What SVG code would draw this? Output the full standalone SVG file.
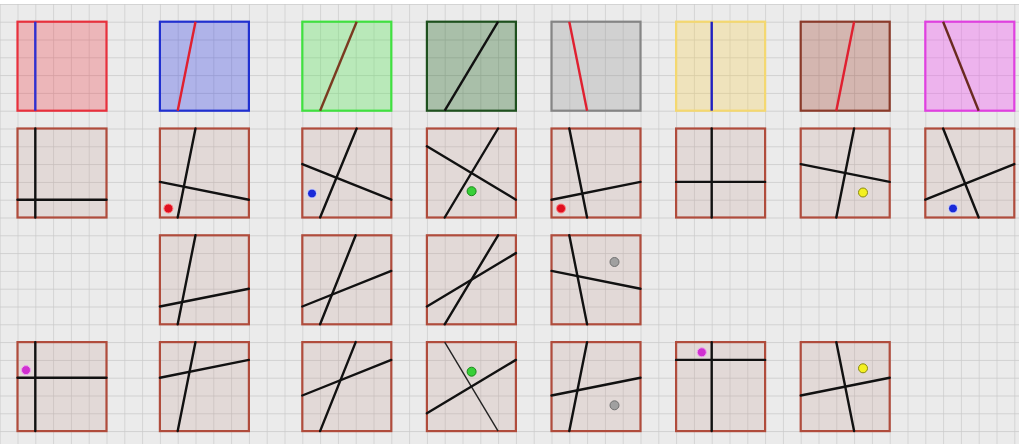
<svg xmlns="http://www.w3.org/2000/svg" width="1019" height="444" viewBox="0 0 1019 444">
<defs>
<pattern id="grid" patternUnits="userSpaceOnUse" x="17.5" y="21.7" width="17.8" height="17.8">
<rect width="17.8" height="17.8" fill="#ebebeb"/>
<path d="M0 0V17.8M0 0H17.8" stroke="#c9c9c9" stroke-width="1.3" fill="none"/>
</pattern>
<style>
.sq{fill:rgba(190,140,130,0.18);stroke:#b04c3c;stroke-width:2.2}
.ln{stroke:#111;stroke-width:2.4;fill:none;stroke-linecap:round}
.thin{stroke:#222;stroke-width:1.4;fill:none}
.dot{stroke-width:1}
</style>
</defs>
<rect width="1019" height="444" fill="url(#grid)"/>
<rect width="1019" height="4" fill="#ffffff"/>

<!-- Row 1 -->
<g id="r1c1" transform="translate(17.5,21.7)">
<rect width="89" height="89" fill="rgba(240,60,70,0.3)" stroke="#e8303c" stroke-width="2.2"/>
<line x1="17.8" y1="0" x2="17.8" y2="89" stroke="#3030d0" stroke-width="2.4"/>
</g>
<g id="r1c2" transform="translate(159.9,21.7)">
<rect width="89" height="89" fill="rgba(60,70,230,0.34)" stroke="#2030d0" stroke-width="2.2"/>
<line x1="35.6" y1="0" x2="17.8" y2="89" stroke="#e02030" stroke-width="2.4"/>
</g>
<g id="r1c3" transform="translate(302.3,21.7)">
<rect width="89" height="89" fill="rgba(80,230,80,0.32)" stroke="#40e040" stroke-width="2.2"/>
<line x1="54.4" y1="0" x2="17.8" y2="89" stroke="#7a3a20" stroke-width="2.4"/>
</g>
<g id="r1c4" transform="translate(426.9,21.7)">
<rect width="89" height="89" fill="rgba(30,100,30,0.32)" stroke="#1e501e" stroke-width="2.2"/>
<line x1="71.2" y1="0" x2="17.8" y2="89" stroke="#111" stroke-width="2.4"/>
</g>
<g id="r1c5" transform="translate(551.5,21.7)">
<rect width="89" height="89" fill="rgba(150,150,150,0.3)" stroke="#858585" stroke-width="2.2"/>
<line x1="17.8" y1="0" x2="35.6" y2="89" stroke="#e02030" stroke-width="2.4"/>
</g>
<g id="r1c6" transform="translate(676.1,21.7)">
<rect width="89" height="89" fill="rgba(250,210,80,0.3)" stroke="#f4d870" stroke-width="2.2"/>
<line x1="35.6" y1="0" x2="35.6" y2="89" stroke="#2020c0" stroke-width="2.4"/>
</g>
<g id="r1c7" transform="translate(800.7,21.7)">
<rect width="89" height="89" fill="rgba(160,60,40,0.3)" stroke="#8a3a2a" stroke-width="2.2"/>
<line x1="53.4" y1="0" x2="35.6" y2="89" stroke="#e02030" stroke-width="2.4"/>
</g>
<g id="r1c8" transform="translate(925.3,21.7)">
<rect width="89" height="89" fill="rgba(240,80,240,0.36)" stroke="#e040e0" stroke-width="2.2"/>
<line x1="17.8" y1="0" x2="53.4" y2="89" stroke="#6a2a20" stroke-width="2.4"/>
</g>

<!-- Row 2 -->
<g id="r2c1" transform="translate(17.5,128.5)">
<rect class="sq" width="89" height="89"/>
<line class="ln" x1="17.8" y1="0" x2="17.8" y2="89"/>
<line class="ln" x1="0" y1="71.2" x2="89" y2="71.2"/>
</g>
<g id="r2c2" transform="translate(159.9,128.5)">
<rect class="sq" width="89" height="89"/>
<line class="ln" x1="35.6" y1="0" x2="17.8" y2="89"/>
<line class="ln" x1="0" y1="53.4" x2="89" y2="71.2"/>
<circle class="dot" cx="8.5" cy="80" r="4.5" fill="#e01020" stroke="#ff8080"/>
</g>
<g id="r2c3" transform="translate(302.3,128.5)">
<rect class="sq" width="89" height="89"/>
<line class="ln" x1="54.4" y1="0" x2="17.8" y2="89"/>
<line class="ln" x1="0" y1="35.6" x2="89" y2="71.2"/>
<circle class="dot" cx="9.7" cy="65" r="4.5" fill="#1a2ad8" stroke="#d8dcff"/>
</g>
<g id="r2c4" transform="translate(426.9,128.5)">
<rect class="sq" width="89" height="89"/>
<line class="ln" x1="71.2" y1="0" x2="17.8" y2="89"/>
<line class="ln" x1="0" y1="17.8" x2="89" y2="71.2"/>
<circle class="dot" cx="44.7" cy="62.7" r="4.5" fill="#38d038" stroke="#1a8a1a"/>
</g>
<g id="r2c5" transform="translate(551.5,128.5)">
<rect class="sq" width="89" height="89"/>
<line class="ln" x1="17.8" y1="0" x2="35.6" y2="89"/>
<line class="ln" x1="0" y1="71.2" x2="89" y2="53.4"/>
<circle class="dot" cx="9.5" cy="80" r="4.5" fill="#e01020" stroke="#ff8080"/>
</g>
<g id="r2c6" transform="translate(676.1,128.5)">
<rect class="sq" width="89" height="89"/>
<line class="ln" x1="35.6" y1="0" x2="35.6" y2="89"/>
<line class="ln" x1="0" y1="53.4" x2="89" y2="53.4"/>
</g>
<g id="r2c7" transform="translate(800.7,128.5)">
<rect class="sq" width="89" height="89"/>
<line class="ln" x1="53.4" y1="0" x2="35.6" y2="89"/>
<line class="ln" x1="0" y1="35.6" x2="89" y2="53.4"/>
<circle class="dot" cx="62.3" cy="64" r="4.5" fill="#f4f020" stroke="#8a8a10"/>
</g>
<g id="r2c8" transform="translate(925.3,128.5)">
<rect class="sq" width="89" height="89"/>
<line class="ln" x1="17.8" y1="0" x2="53.4" y2="89"/>
<line class="ln" x1="0" y1="71.2" x2="89" y2="35.6"/>
<circle class="dot" cx="27.7" cy="80" r="4.5" fill="#1a2ad8" stroke="#d8dcff"/>
</g>

<!-- Row 3 -->
<g id="r3c2" transform="translate(159.9,235.3)">
<rect class="sq" width="89" height="89"/>
<line class="ln" x1="35.6" y1="0" x2="17.8" y2="89"/>
<line class="ln" x1="0" y1="71.2" x2="89" y2="53.4"/>
</g>
<g id="r3c3" transform="translate(302.3,235.3)">
<rect class="sq" width="89" height="89"/>
<line class="ln" x1="53.4" y1="0" x2="17.8" y2="89"/>
<line class="ln" x1="0" y1="71.2" x2="89" y2="35.6"/>
</g>
<g id="r3c4" transform="translate(426.9,235.3)">
<rect class="sq" width="89" height="89"/>
<line class="ln" x1="71.2" y1="0" x2="17.8" y2="89"/>
<line class="ln" x1="0" y1="71.2" x2="89" y2="17.8"/>
</g>
<g id="r3c5" transform="translate(551.5,235.3)">
<rect class="sq" width="89" height="89"/>
<line class="ln" x1="17.8" y1="0" x2="35.6" y2="89"/>
<line class="ln" x1="0" y1="35.6" x2="89" y2="53.4"/>
<circle class="dot" cx="63" cy="26.7" r="4.5" fill="#a0a0a0" stroke="#707070"/>
</g>

<!-- Row 4 -->
<g id="r4c1" transform="translate(17.5,342.1)">
<rect class="sq" width="89" height="89"/>
<line class="ln" x1="17.8" y1="0" x2="17.8" y2="89"/>
<line class="ln" x1="0" y1="35.6" x2="89" y2="35.6"/>
<circle class="dot" cx="8.5" cy="28" r="4.5" fill="#d030d0" stroke="#f0a0f0"/>
</g>
<g id="r4c2" transform="translate(159.9,342.1)">
<rect class="sq" width="89" height="89"/>
<line class="ln" x1="35.6" y1="0" x2="17.8" y2="89"/>
<line class="ln" x1="0" y1="35.6" x2="89" y2="17.8"/>
</g>
<g id="r4c3" transform="translate(302.3,342.1)">
<rect class="sq" width="89" height="89"/>
<line class="ln" x1="53.4" y1="0" x2="17.8" y2="89"/>
<line class="ln" x1="0" y1="53.4" x2="89" y2="17.8"/>
</g>
<g id="r4c4" transform="translate(426.9,342.1)">
<rect class="sq" width="89" height="89"/>
<line class="thin" x1="17.8" y1="0" x2="71.2" y2="89"/>
<line class="ln" x1="0" y1="71.2" x2="89" y2="17.8"/>
<circle class="dot" cx="44.7" cy="29.6" r="4.5" fill="#38d038" stroke="#1a8a1a"/>
</g>
<g id="r4c5" transform="translate(551.5,342.1)">
<rect class="sq" width="89" height="89"/>
<line class="ln" x1="35.6" y1="0" x2="17.8" y2="89"/>
<line class="ln" x1="0" y1="53.4" x2="89" y2="35.6"/>
<circle class="dot" cx="63" cy="63.2" r="4.5" fill="#a0a0a0" stroke="#707070"/>
</g>
<g id="r4c6" transform="translate(676.1,342.1)">
<rect class="sq" width="89" height="89"/>
<line class="ln" x1="35.6" y1="0" x2="35.6" y2="89"/>
<line class="ln" x1="0" y1="17.8" x2="89" y2="17.8"/>
<circle class="dot" cx="25.7" cy="10.2" r="4.5" fill="#d030d0" stroke="#f0a0f0"/>
</g>
<g id="r4c7" transform="translate(800.7,342.1)">
<rect class="sq" width="89" height="89"/>
<line class="ln" x1="35.6" y1="0" x2="53.4" y2="89"/>
<line class="ln" x1="0" y1="53.4" x2="89" y2="35.6"/>
<circle class="dot" cx="62.3" cy="26.2" r="4.5" fill="#f4f020" stroke="#8a8a10"/>
</g>
<g id="connectors"></g>
</svg>
